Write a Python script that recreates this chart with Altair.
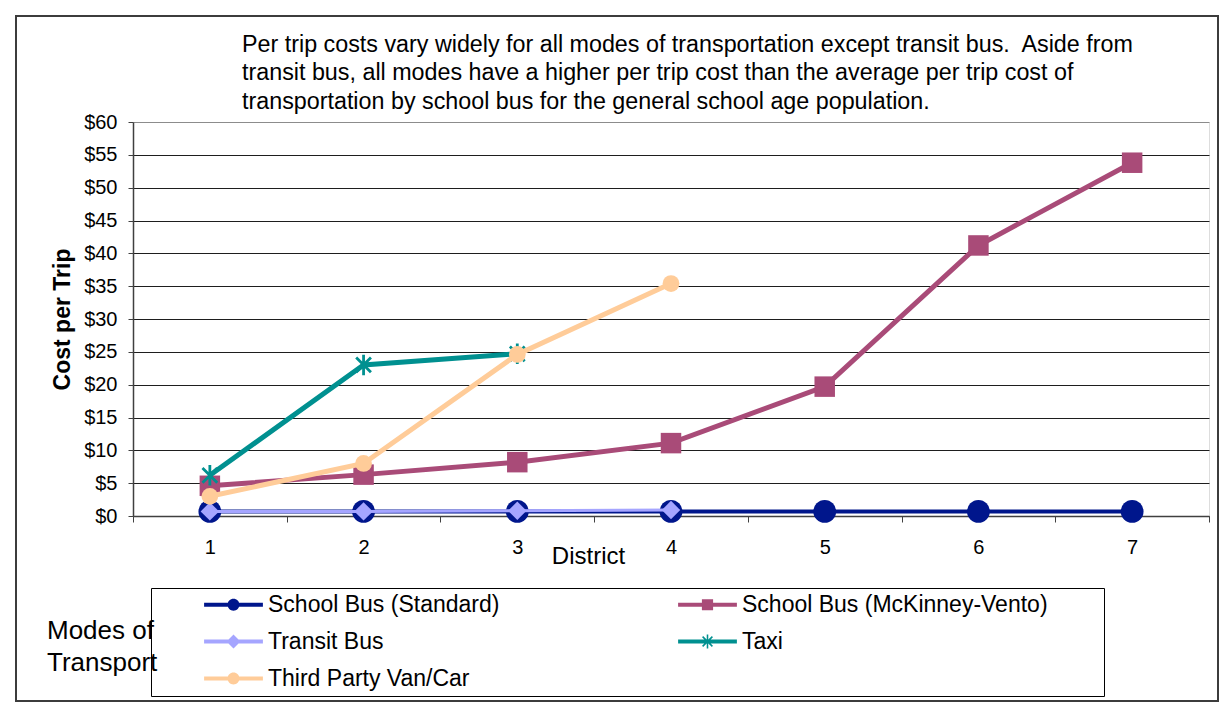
import altair as alt
import pandas as pd

# ---------------- data ----------------
districts = [1, 2, 3, 4, 5, 6, 7]
series_names = [
    "School Bus (Standard)",
    "School Bus (McKinney-Vento)",
    "Transit Bus",
    "Taxi",
    "Third Party Van/Car",
]
school_bus_standard = [0.7, 0.7, 0.7, 0.7, 0.7, 0.7, 0.7]
school_bus_mckinney = [4.6, 6.3, 8.2, 11.1, 19.7, 41.2, 53.8]
transit_bus = [0.7, 0.7, 0.8, 0.9, None, None, None]
taxi = [6.2, 23.0, 24.7, None, None, None, None]
third_party = [3.0, 8.0, 24.6, 35.4, None, None, None]
y_ticks = [0, 5, 10, 15, 20, 25, 30, 35, 40, 45, 50, 55, 60]
title_lines = [
    "Per trip costs vary widely for all modes of transportation except transit bus.\u00a0 Aside from",
    "transit bus, all modes have a higher per trip cost than the average per trip cost of",
    "transportation by school bus for the general school age population.",
]
legend_title = "Modes of\nTransport"

# ---------------- styles ----------------
series_colors = ["#00168C", "#A94B78", "#A5A5FF", "#009090", "#FFCC99"]
FONT = "Liberation Sans"

asterisk_stroke = "M0,-1L0,1M-0.72,-0.72L0.72,0.72M-0.72,0.72L0.72,-0.72"
marker_shape = ["circle", "square", "diamond", asterisk_stroke, "circle"]
marker_size = [520, 420, 340, 420, 280]
marker_filled = [True, True, True, False, True]
line_width = [4, 5, 3, 5, 5]

# legend symbols: line segment + marker (filled paths)
seg = "M-4.2,-0.3L4.2,-0.3L4.2,0.3L-4.2,0.3Z"
circ = "M-0.85,0A0.85,0.85 0 1,1 0.85,0A0.85,0.85 0 1,1 -0.85,0Z"
sq = "M-0.8,-0.8L0.8,-0.8L0.8,0.8L-0.8,0.8Z"
dia = "M0,-1L1,0L0,1L-1,0Z"
ast = ("M-0.11,-1L0.11,-1L0.11,1L-0.11,1Z"
       "M-0.622,-0.778L0.778,0.622L0.622,0.778L-0.778,-0.622Z"
       "M-0.778,0.622L0.622,-0.778L0.778,-0.622L-0.622,0.778Z")
box_reach = "M55.8,0Z"  # widens the legend frame to the right
legend_paths = [seg + circ, seg + sq + box_reach, seg + dia, seg + ast, seg + circ]

# ---------------- table ----------------
values = [school_bus_standard, school_bus_mckinney, transit_bus, taxi, third_party]
rows = []
for name, vals in zip(series_names, values):
    for d, v in zip(districts, vals):
        if v is not None:
            rows.append({"series": name, "district": d, "cost": v})
df = pd.DataFrame(rows)

x_enc = alt.X(
    "district:O",
    scale=alt.Scale(type="band", paddingInner=0, paddingOuter=0, domain=districts),
    axis=alt.Axis(
        labelAngle=0, labelFontSize=20, labelColor="black", labelFont=FONT,
        tickBand="extent", tickSize=6, tickColor="#404040", domainColor="#404040",
        domainWidth=1.5, labelPadding=15, grid=False,
        title="District", titleX=455, titleY=40, titleAlign="center",
        titleBaseline="middle", titleFontSize=24, titleFontWeight="normal",
        titleColor="black", titleFont=FONT,
    ),
)
y_enc = alt.Y(
    "cost:Q",
    scale=alt.Scale(domain=[0, 60], nice=False, zero=True),
    axis=alt.Axis(
        values=y_ticks, format="$,.0f", labelFontSize=20, labelColor="black",
        labelFont=FONT, tickSize=5, tickColor="#404040", domainColor="#404040",
        domainWidth=1.5, labelPadding=11, grid=True,
        gridColor=alt.condition("datum.value === 60", alt.value("#8c8c8c"), alt.value("#1e1e1e")),
        gridWidth=1.2,
        title="Cost per Trip", titleX=-71, titleY=197, titleAngle=270,
        titleAlign="center", titleBaseline="middle", titleFontSize=23,
        titleFontWeight="bold", titleColor="black", titleFont=FONT,
    ),
)

layers = []
# decorative chart frame
frame = alt.Chart(pd.DataFrame({"k": [0]})).mark_rect(
    fillOpacity=0, stroke="#3c3c3c", strokeWidth=2
).encode(x=alt.value(-117), x2=alt.value(1085), y=alt.value(-106), y2=alt.value(579))
layers.append(frame)

for i, name in enumerate(series_names):
    base = alt.Chart(df).transform_filter(alt.datum.series == name)
    line = base.mark_line(color=series_colors[i], strokeWidth=line_width[i]).encode(
        x=x_enc, y=y_enc
    )
    if marker_filled[i]:
        pts = base.mark_point(
            shape=marker_shape[i], size=marker_size[i], filled=True,
            color=series_colors[i], opacity=1,
        )
    else:
        pts = base.mark_point(
            shape=marker_shape[i], size=marker_size[i], filled=False,
            color=series_colors[i], strokeWidth=2.8, opacity=1,
        )
    pts = pts.encode(x=x_enc, y=y_enc)
    layers += [line, pts]

legend_layer = alt.Chart(df).transform_filter("false").mark_point(
    filled=True, opacity=1
).encode(
    x=x_enc, y=y_enc,
    color=alt.Color(
        "series:N",
        scale=alt.Scale(domain=series_names, range=series_colors),
        legend=alt.Legend(
            orient="none", legendX=18, legendY=466, columns=2, direction="horizontal",
            title=None,
            labelFontSize=23, labelFont=FONT, labelColor="black", labelLimit=600,
            symbolSize=196, symbolStrokeWidth=0, symbolOffset=66, labelOffset=23,
            rowPadding=13, columnPadding=130, padding=5,
            strokeColor="black",
        ),
    ),
    shape=alt.Shape("series:N", scale=alt.Scale(domain=series_names, range=legend_paths)),
)
layers.append(legend_layer)

modes = alt.Chart(pd.DataFrame({"t": [legend_title]})).mark_text(
    align="left", baseline="middle", fontSize=26, font=FONT, color="black",
    lineBreak="\n", lineHeight=32,
).encode(text="t:N", x=alt.value(-86), y=alt.value(509))
layers.append(modes)

chart = alt.layer(*layers).properties(
    width=1076, height=394,
    autosize=alt.AutoSizeParams(type="none"),
    padding={"left": 125, "top": 114, "right": 13, "bottom": 187},
    title=alt.TitleParams(
        text=title_lines, anchor="start", frame="group", dx=109, dy=107, fontSize=23.3,
        fontWeight="normal", font=FONT, lineHeight=28.5, offset=8, color="black",
    ),
).configure_view(
    fill="#C9C9C9", stroke="#8c8c8c", strokeWidth=2
).configure(background="white")

chart.save("out.html", embed_options={"renderer": "svg", "actions": False})
